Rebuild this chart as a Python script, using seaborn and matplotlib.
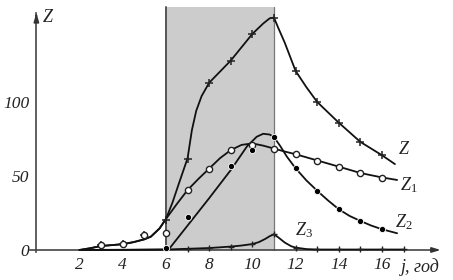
import matplotlib
matplotlib.use("Agg")
import matplotlib.pyplot as plt
import seaborn as sns
import numpy as np
import pandas as pd

# ---- observed points (markers) ----
z_x = [3, 4, 5, 6, 7, 8, 9, 10, 11, 12, 13, 14, 15, 16]
z_y = [3.5, 4, 10, 20, 61.5, 113, 127.7, 145.7, 156.5, 121, 100, 86, 73, 64]
z1_x = [3, 4, 5, 6, 7, 8, 9, 10, 11, 12, 13, 14, 15, 16]
z1_y = [3.5, 4, 10, 11.3, 40.5, 54.5, 67.6, 71, 68, 64.7, 60.4, 56.3, 51.8, 48.9]
z2_x = [6, 7, 9, 10, 11, 12, 13, 14, 15, 16]
z2_y = [1.6, 22.5, 56.8, 67.6, 76.6, 55.2, 40.1, 27.5, 19.6, 14]
z3_x = [7, 8, 9, 10, 11, 12, 13, 14, 15, 16, 17]
z3_y = [0.8, 1.3, 2.3, 3.8, 10.6, 1.6, 0.5, 0.5, 0.5, 0.5, 0.5]

# ---- model curves ----
zc_x = [2, 2.5, 3, 3.5, 4, 4.5, 5, 5.3, 5.7, 6, 6.3, 6.6, 7, 7.2, 7.4, 7.65, 8, 8.5, 9,
        9.5, 10, 10.5, 10.8, 11, 11.2, 11.5, 12, 12.5, 13, 13.5, 14, 15, 16, 16.6]
zc_y = [0, 1.2, 2.7, 3.3, 3.9, 5.3, 7.2, 9, 14.5, 21, 32, 45, 62, 81, 94, 104, 113, 120.5, 128,
        137, 146, 153, 156.5, 157, 150, 140, 121, 110, 100, 93, 86, 73, 64, 58]
z1c_x = [2, 2.5, 3, 3.5, 4, 4.5, 5, 5.3, 5.7, 6, 6.5, 7, 7.5, 8, 8.5, 9, 9.5, 10, 10.5,
         11, 11.5, 12, 13, 14, 15, 16, 16.7]
z1c_y = [0, 1.2, 2.7, 3.3, 3.9, 5.3, 7.2, 9, 14.5, 21, 31, 40.5, 48, 55, 62, 67.5, 71, 72, 70.5,
         68.5, 66.5, 64.7, 60.5, 56.3, 52, 49, 47.3]
z2c_x = [2, 4, 6, 6.15, 7, 8, 9, 9.75, 10.2, 10.5, 10.8, 11, 11.3, 11.6, 12, 12.5, 13, 13.5,
         14, 14.5, 15, 15.5, 16, 16.7]
z2c_y = [0, 0, 0.3, 0.8, 16.5, 35, 54, 70, 76.5, 78.5, 78, 76.3, 70, 63, 55.2, 47, 40, 33.5,
         27.5, 23, 19.6, 16.5, 14, 11.3]
z3c_x = [2, 6, 7, 8, 9, 9.5, 10, 10.3, 10.6, 10.8, 11, 11.2, 11.5, 11.8, 12, 12.5, 13, 17]
z3c_y = [0, 0.3, 0.8, 1.3, 2.3, 3, 4, 5.3, 7.5, 9.3, 10.6, 8.5, 5, 2.5, 1.6, 0.6, 0.3, 0.3]

x_ticklabels = [2, 4, 6, 8, 10, 12, 14, 16]
y_ticklabels = [0, 50, 100]
band = (6, 11)

sns.set_style("white")
plt.rcParams['font.family'] = ['Liberation Serif', 'DejaVu Serif']
plt.rcParams['mathtext.fontset'] = 'custom'
plt.rcParams['mathtext.it'] = 'Liberation Serif:italic'
plt.rcParams['mathtext.rm'] = 'Liberation Serif'

fig = plt.figure(figsize=(4.53, 2.80), dpi=100)
ax = fig.add_axes([0.066, 0.0914, 0.9155, 0.888])
ax.set_xlim(-0.3, 18.9)
ax.set_ylim(-3, 165)

# shaded band
ax.fill_between(list(band), 0, 164, color='#cccccc', lw=0, zorder=0)
ax.plot([band[0], band[0]], [0, 164], color='#555555', lw=1.4, zorder=1)
ax.plot([band[1], band[1]], [0, 164], color='#777777', lw=0.9, zorder=1)

lc = '#111111'
lw = 1.3
for cx, cy in [(zc_x, zc_y), (z1c_x, z1c_y), (z2c_x, z2c_y), (z3c_x, z3c_y)]:
    sns.lineplot(x=cx, y=cy, ax=ax, color=lc, lw=lw, sort=False, zorder=3)

sns.scatterplot(x=z_x, y=z_y, ax=ax, marker='+', s=40, color='#222222', linewidth=1.1, zorder=4)
sns.scatterplot(x=z1_x, y=z1_y, ax=ax, marker='o', s=20, facecolor='white', edgecolor='#222222',
                linewidth=1.0, zorder=5)
sns.scatterplot(x=z2_x, y=z2_y, ax=ax, marker='o', s=20, color='black', edgecolor='white',
                linewidth=0.6, zorder=5)
sns.scatterplot(x=z3_x, y=z3_y, ax=ax, marker='+', s=14, color='#222222', linewidth=1.0, zorder=4)

# axes as arrows
for s in ['top', 'right']:
    ax.spines[s].set_visible(False)
ax.spines['left'].set_position(('data', 0))
ax.spines['bottom'].set_position(('data', 0))
ax.spines['left'].set_bounds(-1.5, 160)
ax.spines['bottom'].set_bounds(-0.3, 18.5)
for s in ['left', 'bottom']:
    ax.spines[s].set_color('#444444')
    ax.spines[s].set_linewidth(1.2)
ax.annotate('', xy=(0, 162), xytext=(0, 155),
            arrowprops=dict(arrowstyle='-|>,head_length=0.5,head_width=0.15', color='#333333', lw=1.2))
ax.annotate('', xy=(18.85, 0), xytext=(18.2, 0),
            arrowprops=dict(arrowstyle='-|>,head_length=0.5,head_width=0.15', color='#333333', lw=1.2))

ax.set_xticks(range(1, 18))
ax.set_xticklabels([str(v) if v in x_ticklabels else '' for v in range(1, 18)])
ax.set_yticks(range(0, 151, 10))
ax.set_yticklabels([str(v) if v in y_ticklabels else '' for v in range(0, 151, 10)])
ax.tick_params(axis='both', direction='inout', length=4, width=0.8, color='#444444',
               labelsize=12.5, labelcolor='#222222')
ax.tick_params(axis='x', pad=3)
ax.tick_params(axis='y', pad=3)
for t in ax.get_xticklabels() + ax.get_yticklabels():
    t.set_fontstyle('italic')
ax.grid(False)

tk = dict(fontsize=13, color='#222222', va='center', ha='left')
ax.text(0.26, 157.4, '$Z$', **tk)
ax.text(16.9, -11.5, 'j, год', fontstyle='italic', clip_on=False, **tk)
ax.text(16.74, 67.6, '$Z$', **tk)
ax.text(16.84, 43.9, '$Z_1$', **tk)
ax.text(16.6, 19.1, '$Z_2$', **tk)
ax.text(11.97, 13.5, '$Z_3$', **tk)

fig.savefig('out.png', dpi=100)
